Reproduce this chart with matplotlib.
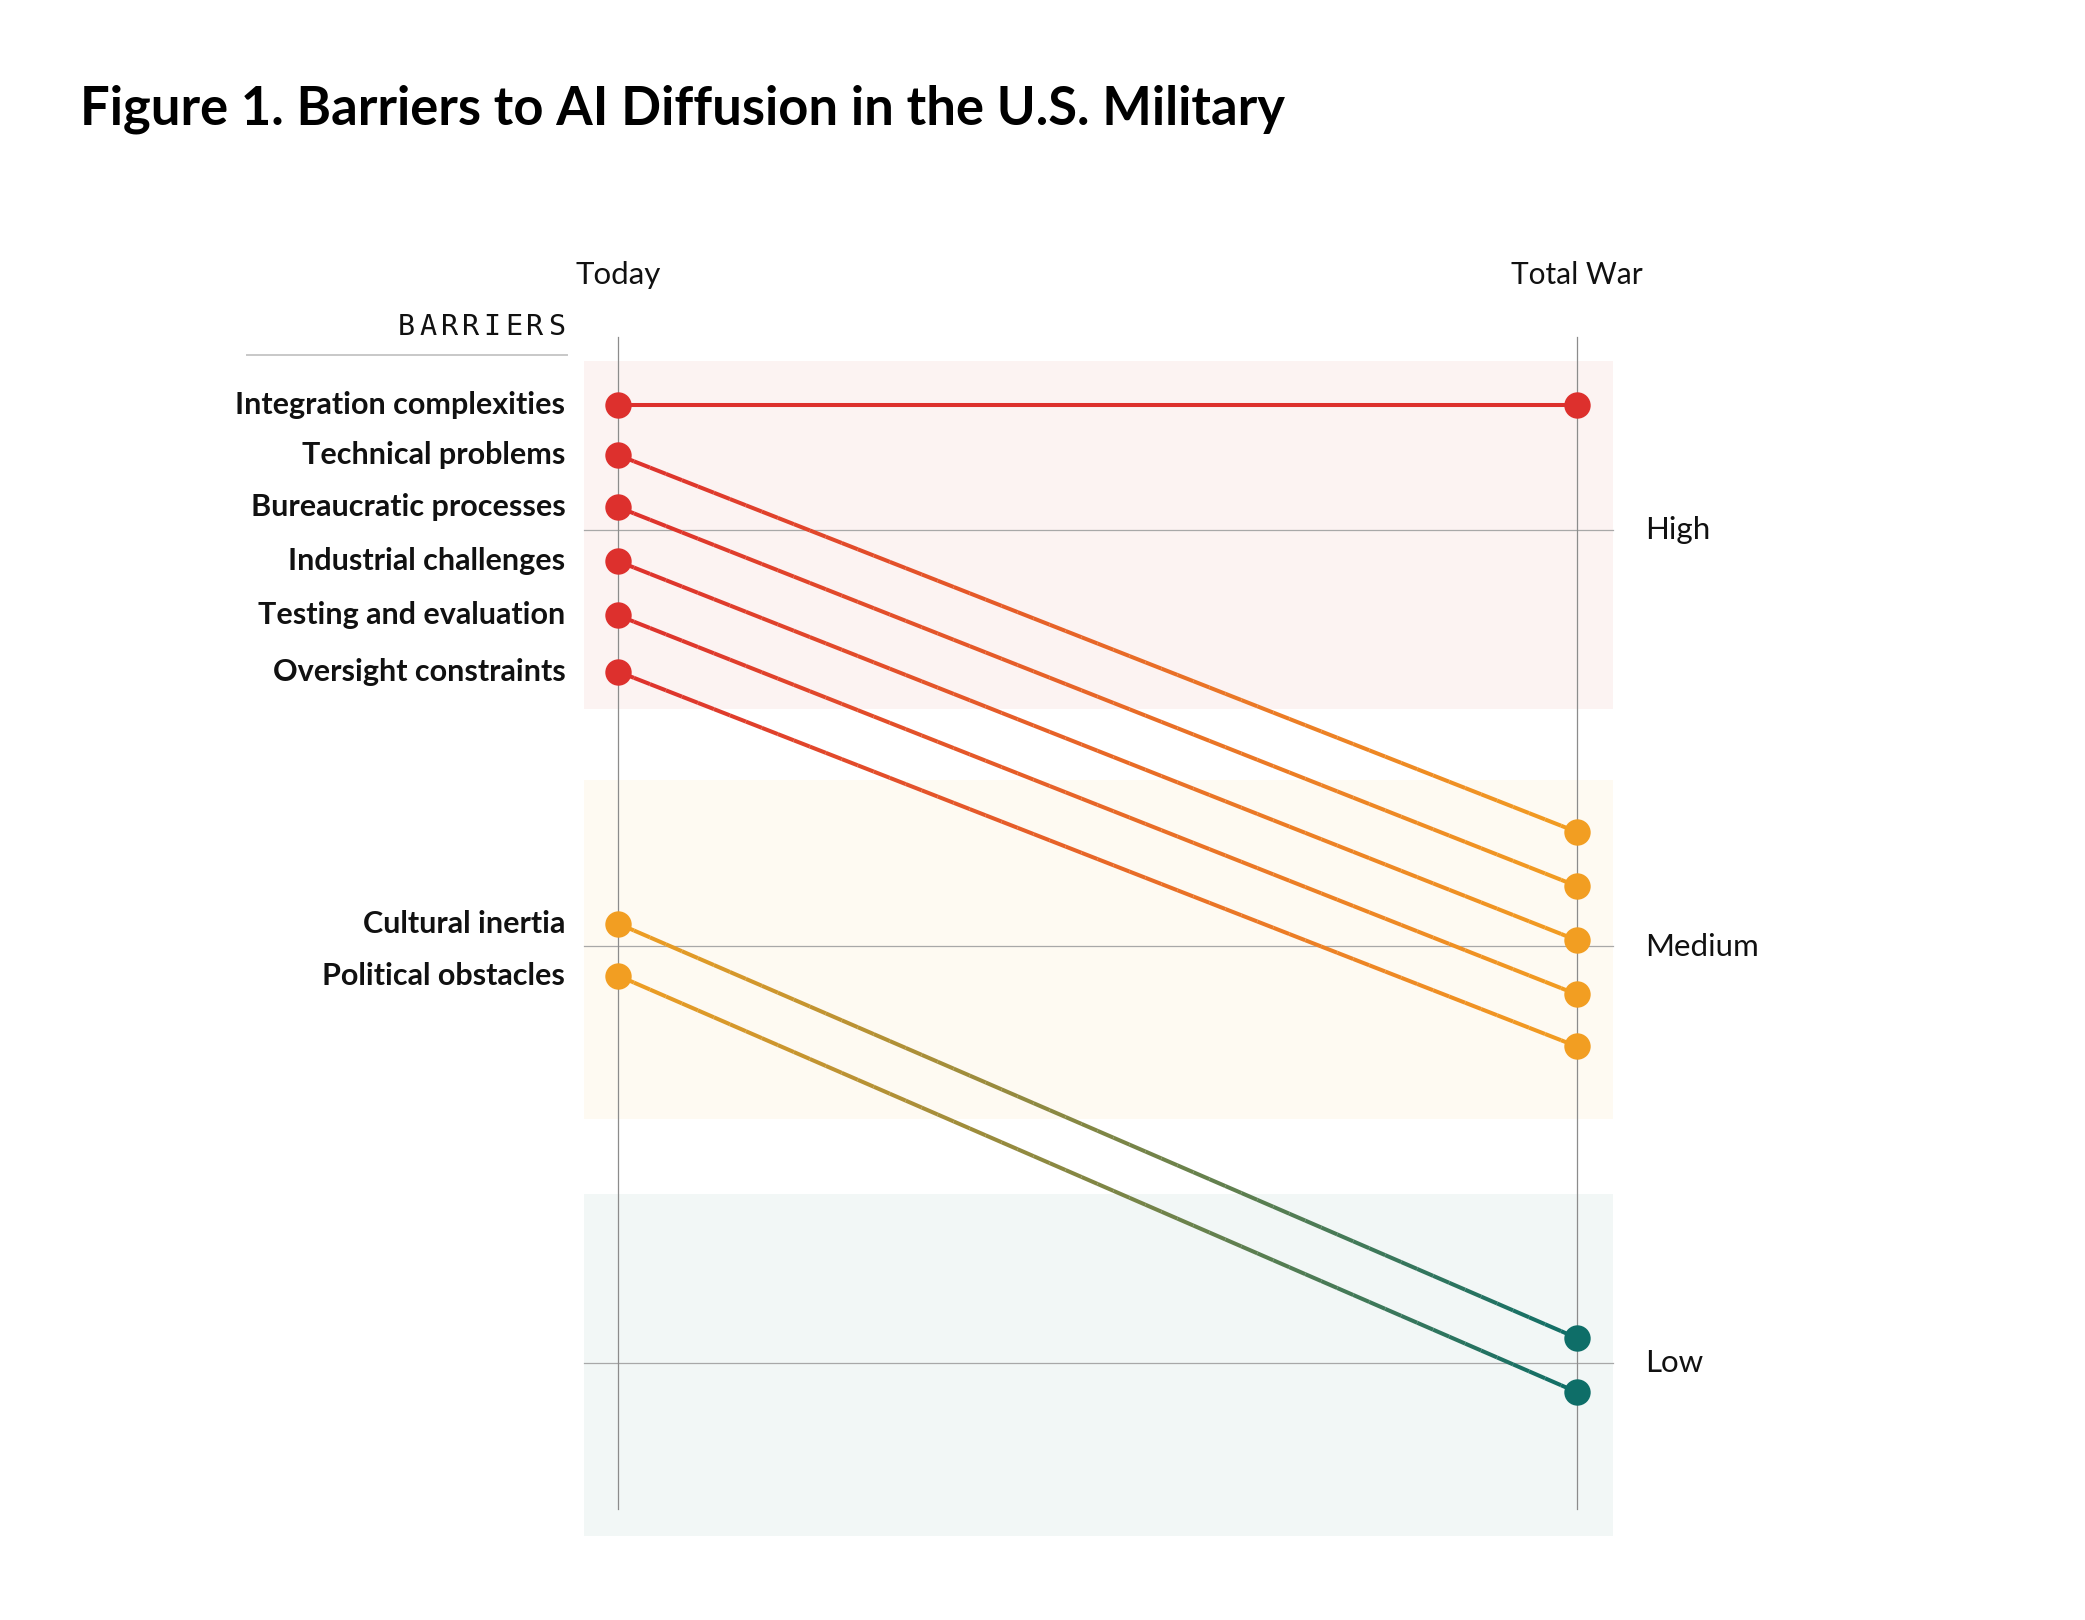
import numpy as np
import matplotlib.pyplot as plt
from matplotlib.collections import LineCollection
from matplotlib.colors import to_rgb

barriers = ['Integration complexities', 'Technical problems', 'Bureaucratic processes',
            'Industrial challenges', 'Testing and evaluation', 'Oversight constraints',
            'Cultural inertia', 'Political obstacles']
today = [3.30, 3.18, 3.055, 2.925, 2.795, 2.66, 2.055, 1.93]
total_war = [3.30, 2.275, 2.145, 2.015, 1.885, 1.76, 1.06, 0.93]
levels = ['High', 'Medium', 'Low']
level_values = [3, 2, 1]

RED = '#DD302D'
ORANGE = '#F29E22'
TEAL = '#0E6E68'
band_colors = {3: '#FCF3F2', 2: '#FEFAF2', 1: '#F2F7F6'}
band_extent = {3: (0.405, 0.43), 2: (0.40, 0.415), 1: (0.405, 0.415)}


def level_color(v):
    if v > 2.5:
        return RED
    if v > 1.5:
        return ORANGE
    return TEAL


W, H = 2085, 1620
fig = plt.figure(figsize=(W / 100, H / 100), dpi=100)
ax = fig.add_axes([0, 0, 1, 1])
# x: Today=0 at 618px, Total War=1 at 1577px; y: High=3 at 530px from top, 416.5px per level
xs = 959.0
ys = 416.5
x0 = -618 / xs
y0 = 3 - (H - 530) / ys
ax.set_xlim(x0, x0 + W / xs)
ax.set_ylim(y0, y0 + H / ys)
ax.axis('off')

font = 'Lato'

# bands + level lines
for lv, name in zip(level_values, levels):
    up, down = band_extent[lv]
    ax.fill_between([-0.035, 1.0375], lv - down, lv + up, color=band_colors[lv], lw=0, zorder=0)
    ax.plot([-0.035, 1.0375], [lv, lv], color='#A8A8A8', lw=0.9, zorder=1)
    ax.text(1.0715, lv, name, fontsize=22.5, family=font, va='center', ha='left', color='#111111')

# vertical axis lines
for x in [0, 1]:
    ax.plot([x, x], [0.649, 3.463], color='#8C8C8C', lw=0.9, zorder=1)

# gradient lines
n = 60
for a, b in zip(today, total_war):
    c1 = np.array(to_rgb(level_color(a)))
    c2 = np.array(to_rgb(level_color(b)))
    t = np.linspace(0, 1, n + 1)
    py = a + (b - a) * t
    segs = np.stack([np.column_stack([t[:-1], py[:-1]]), np.column_stack([t[1:], py[1:]])], axis=1)
    tm = (t[:-1] + t[1:]) / 2
    cols = c1[None, :] * (1 - tm[:, None]) + c2[None, :] * tm[:, None]
    ax.add_collection(LineCollection(segs, colors=cols, linewidths=2.9, zorder=2, capstyle='butt'))
    ax.plot(0, a, 'o', ms=19, color=level_color(a), mec='none', zorder=3)
    ax.plot(1, b, 'o', ms=19, color=level_color(b), mec='none', zorder=3)

# barrier labels
for name, v in zip(barriers, today):
    ax.text(-0.055, v, name, fontsize=22, family=font, fontweight='bold', ha='right', va='center',
            color='#111111')

# column headers
hy = 3 + (530 - 275) / ys
ax.text(0, hy, 'Today', fontsize=22.5, family=font, ha='center', va='center', color='#111111')
ax.text(1, hy, 'Total War', fontsize=21.5, family=font, ha='center', va='center', color='#111111')

# BARRIERS heading (letter-spaced mono) and rule
head = 'BARRIERS'
step = 21.4 / xs
right = (565 - 618) / xs
by = 3 + (530 - 327) / ys
for i, ch in enumerate(head):
    cx = right - (len(head) - 1 - i) * step
    ax.text(cx, by, ch, fontsize=20.5, family='DejaVu Sans Mono', ha='right', va='center',
            color='#111111')
ax.plot([(247 - 618) / xs, (567 - 618) / xs], [3 + (530 - 355) / ys] * 2, color='#C8C8C8', lw=1.4)

fig.text(80 / W, 1 - 109 / H, 'Figure 1. Barriers to AI Diffusion in the U.S. Military', fontsize=37.8,
         family=font, fontweight='bold', ha='left', va='center', color='#000000')

fig.savefig('out.png', dpi=100, facecolor='white')
